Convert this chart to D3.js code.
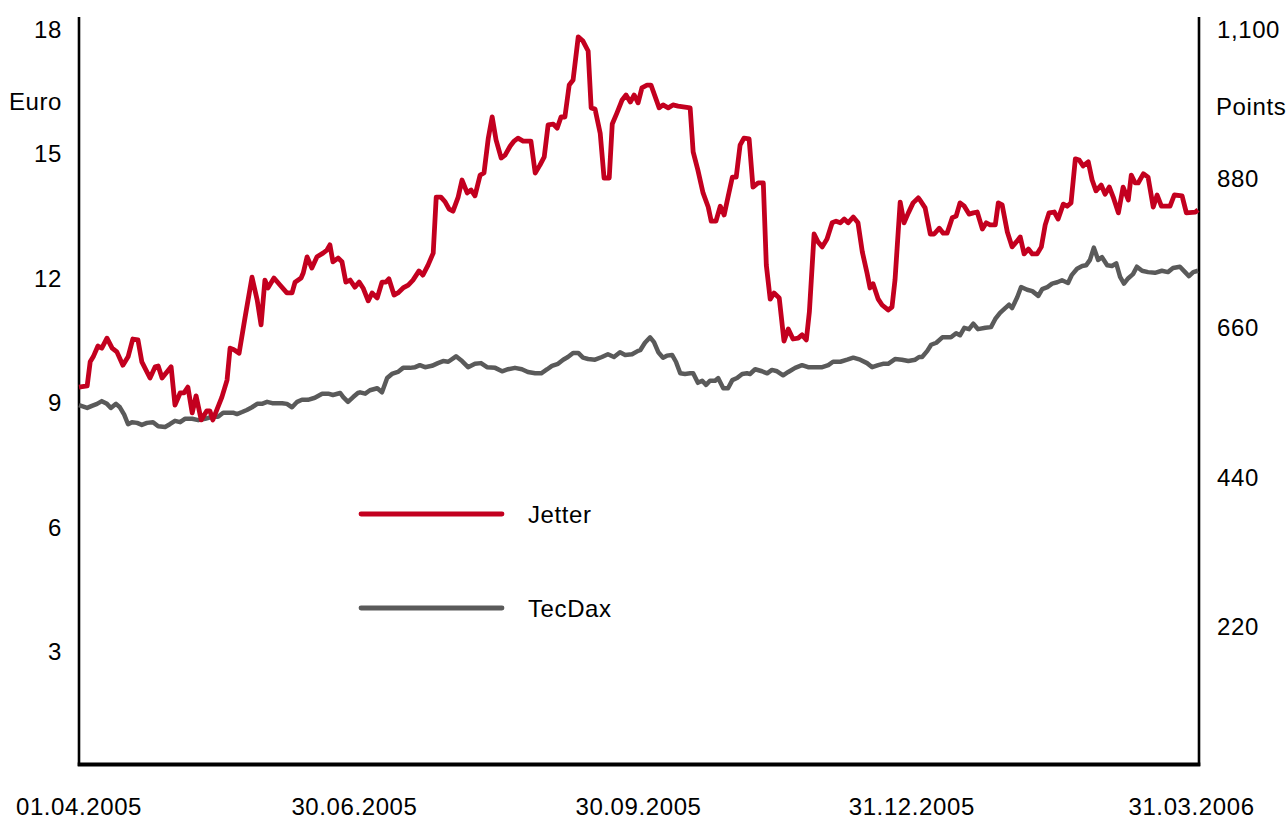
<!DOCTYPE html>
<html>
<head>
<meta charset="utf-8">
<script src="https://cdn.jsdelivr.net/npm/d3@7"></script>
<style>
html, body { margin: 0; padding: 0; background: #fff; }
svg { display: block; font-family: "Liberation Sans", Arial, Helvetica, sans-serif; }
svg text { letter-spacing: 0.6px; }
</style>
</head>
<body>
<svg id="chart" width="1287" height="819"></svg>
<script>
// trading day index (0 = 01.04.2005, 260 = 31.03.2006) and values
const jetterDay = [
  0,1.9,2.6,3.3,4.4,5.3,6.5,7.7,8.8,10.2,
  11.4,12.5,13.7,14.6,16.5,17.7,18.4,19.3,21.4,22.3,
  23.5,24.4,25.3,26.3,27.2,28.4,29.7,30.4,31.1,33.2,
  34.4,35.1,36.0,37.2,38.6,40.2,41.4,42.3,43.2,43.9,
  45.3,46.7,48.3,49.5,50.2,51.6,52.1,53.0,54.1,55.3,
  56.7,57.6,58.3,59.0,60.2,61.1,62.0,63.0,64.1,65.1,
  66.0,67.2,68.1,69.3,70.4,71.3,72.0,73.2,74.1,75.3,
  76.5,77.6,79.0,79.9,81.1,82.3,83.0,84.1,85.1,86.0,
  86.9,88.1,89.0,90.2,91.1,92.0,93.2,94.1,95.1,96.0,
  96.9,98.1,99.0,100.2,101.1,102.0,103.2,105.0,106.0,107.1,
  108.1,109.0,110.2,111.1,112.0,112.9,113.9,114.8,116.0,117.1,
  118.3,119.0,119.9,121.1,122.0,123.2,123.9,125.0,126.2,127.1,
  128.1,129.0,129.9,130.8,132.0,132.9,134.8,135.7,136.9,138.0,
  139.2,142.0,142.7,143.8,145.0,146.2,146.9,148.0,149.0,149.9,
  150.8,151.8,152.7,153.6,154.5,155.7,156.6,157.8,159.0,159.7,
  160.6,161.5,162.7,163.8,164.8,165.9,167.1,168.0,169.0,169.7,
  170.8,171.7,172.7,173.8,175.0,175.9,176.9,177.8,178.7,179.9,
  181.0,182.0,183.1,183.8,184.5,185.7,186.6,188.0,188.9,189.6,
  190.8,191.7,192.7,193.8,195.0,195.4,196.6,197.8,198.7,199.9,
  200.8,201.7,202.9,203.8,204.7,205.7,206.8,207.8,208.7,209.9,
  210.8,211.7,212.9,213.6,214.5,215.7,216.8,217.8,218.7,219.6,
  220.6,221.5,222.6,223.6,224.5,225.4,226.6,227.5,228.7,229.6,
  230.5,231.5,232.4,233.3,234.5,235.4,236.3,237.5,238.4,239.4,
  240.3,241.5,242.6,243.8,244.5,245.4,246.1,247.3,248.4,249.6,
  250.5,251.5,253.5,254.5,256.3,257.3,259.4,260.0
];
const jetterEuro = [
  9.37,9.40,9.98,10.10,10.36,10.31,10.55,10.31,10.22,9.90,
  10.10,10.53,10.51,9.98,9.59,9.86,9.88,9.59,9.86,8.94,
  9.23,9.23,9.37,8.75,9.16,8.58,8.80,8.80,8.58,9.13,
  9.54,10.31,10.27,10.19,11.06,12.02,11.47,10.87,11.95,11.76,
  12.00,11.83,11.64,11.64,11.90,12.00,12.12,12.51,12.24,12.51,
  12.60,12.67,12.80,12.39,12.48,12.39,11.90,11.95,11.78,11.90,
  11.76,11.45,11.64,11.52,11.90,11.90,11.98,11.59,11.64,11.76,
  11.83,11.95,12.17,12.07,12.31,12.60,13.95,13.95,13.83,13.66,
  13.61,13.95,14.36,14.05,14.12,13.98,14.48,14.53,15.37,15.88,
  15.33,14.89,14.96,15.18,15.30,15.37,15.30,15.30,14.53,14.72,
  14.92,15.69,15.71,15.61,15.88,15.88,16.65,16.77,17.81,17.71,
  17.47,16.10,16.07,15.49,14.41,14.41,15.71,15.98,16.29,16.41,
  16.24,16.41,16.22,16.58,16.65,16.65,16.10,16.17,16.10,16.17,
  16.14,16.10,15.04,14.60,14.05,13.71,13.37,13.37,13.73,13.52,
  13.95,14.43,14.43,15.20,15.37,15.35,14.19,14.29,14.29,12.31,
  11.49,11.64,11.52,10.48,10.77,10.53,10.55,10.63,10.51,11.18,
  13.06,12.87,12.75,12.94,13.33,13.37,13.33,13.42,13.33,13.47,
  13.33,12.63,12.12,11.76,11.86,11.49,11.35,11.23,11.30,11.95,
  13.83,13.33,13.57,13.81,13.93,13.88,13.69,13.06,13.06,13.20,
  13.08,13.08,13.45,13.49,13.81,13.73,13.54,13.57,13.59,13.18,
  13.33,13.28,13.28,13.81,13.76,13.11,12.75,12.87,12.99,12.58,
  12.70,12.58,12.58,12.75,13.28,13.57,13.59,13.42,13.78,13.73,
  13.81,14.87,14.84,14.70,14.80,14.36,14.10,14.24,14.02,14.19,
  13.95,13.57,14.19,13.88,14.48,14.29,14.29,14.51,14.43,13.71,
  14.00,13.73,13.73,14.00,13.98,13.57,13.59,13.64
];
const tecdaxDay = [
  0,1.9,3.0,4.2,5.3,6.5,7.4,8.6,9.5,10.5,
  11.4,12.3,13.5,14.6,15.8,17.2,18.4,20.0,21.1,22.3,
  23.5,24.6,26.3,27.7,29.3,30.9,32.3,33.5,34.6,35.8,
  36.7,37.9,39.0,40.2,41.4,42.5,43.7,44.9,46.0,47.2,
  48.3,49.5,50.7,51.8,53.2,54.8,56.5,57.9,59.0,60.7,
  61.4,62.5,63.7,64.8,65.3,66.5,67.6,69.3,70.4,71.6,
  72.7,74.1,75.3,76.9,78.1,79.2,80.4,82.0,83.4,84.6,
  85.8,87.6,89.0,90.4,92.0,93.4,94.8,96.7,98.3,99.7,
  101.3,102.9,104.3,106.0,107.4,108.8,109.9,111.3,112.5,113.6,
  114.8,116.0,117.1,118.3,119.9,121.5,122.9,124.3,125.7,126.9,
  128.5,129.9,130.4,131.5,132.7,133.6,134.6,135.7,136.6,137.8,
  138.7,139.7,140.8,142.0,142.7,143.8,144.8,145.7,146.6,147.8,
  148.5,149.7,150.8,151.8,152.9,154.1,155.2,155.9,157.1,158.7,
  159.9,161.0,162.2,163.6,164.8,166.4,168.0,169.4,171.0,172.7,
  174.1,175.2,176.9,178.5,179.9,181.5,183.1,184.3,185.7,186.8,
  188.0,189.6,191.2,192.7,194.3,195.2,195.9,197.1,198.0,199.2,
  200.6,201.7,202.6,203.8,204.7,205.7,206.8,207.8,208.9,210.6,
  211.9,212.9,214.0,215.2,216.1,216.8,218.0,218.9,220.3,221.5,
  222.9,223.8,225.0,226.1,227.3,228.4,229.8,230.7,231.9,233.1,
  234.0,234.9,235.8,236.8,237.7,238.9,240.0,241.0,241.9,242.8,
  243.8,244.9,245.8,247.0,248.4,250.0,251.6,253.0,254.2,255.8,
  257.0,257.9,258.9,260.0
];
const tecdaxPoints = [
  546,542,545,548,552,548,542,548,543,532,
  518,521,520,517,520,521,515,514,518,523,
  521,526,526,524,526,529,529,535,535,535,
  533,536,539,543,548,548,551,549,549,549,
  548,543,551,554,554,557,563,563,561,564,
  558,551,558,564,565,563,568,571,565,586,
  592,595,601,601,602,605,602,604,608,611,
  610,618,611,602,607,608,602,601,596,599,
  601,599,595,593,593,599,604,607,613,617,
  623,623,616,614,613,617,621,617,624,620,
  621,626,627,638,646,639,624,616,619,620,
  610,593,592,593,593,579,582,576,582,582,
  586,571,571,583,586,592,593,592,599,596,
  593,598,596,590,595,601,605,602,602,602,
  605,610,610,613,616,613,608,602,605,607,
  607,614,613,611,613,617,617,626,635,638,
  646,646,646,652,649,660,658,666,658,660,
  661,673,682,689,694,689,705,720,716,714,
  707,717,720,725,727,730,726,738,747,751,
  752,760,778,760,764,752,751,755,735,725,
  733,739,750,744,742,741,744,742,748,750,
  742,736,742,744
];

const euroTicks = [3, 6, 9, 12, 15, 18];
const pointTicks = [220, 440, 660, 880, 1100];
const dateTickDays = [0, 64, 130, 193.5, 258.5];
const dateTickLabels = ["01.04.2005", "30.06.2005", "30.09.2005", "31.12.2005", "31.03.2006"];

const series = [
  { name: "Jetter", color: "#c3001f" },
  { name: "TecDax", color: "#5a5a5a" }
];

const svg = d3.select("#chart");
const x = d3.scaleLinear().domain([0, 260]).range([79, 1198]);
const yEuro = d3.scaleLinear().domain([0, 18]).range([776, 29]);
const yPts = d3.scaleLinear().domain([0, 1100]).range([776, 29]);

// frame lines
svg.append("line").attr("x1", 79).attr("x2", 79).attr("y1", 17).attr("y2", 766)
  .attr("stroke", "#000").attr("stroke-width", 2.6);
svg.append("line").attr("x1", 1199).attr("x2", 1199).attr("y1", 17).attr("y2", 766)
  .attr("stroke", "#000").attr("stroke-width", 2.6);
svg.append("line").attr("x1", 77.7).attr("x2", 1200.3).attr("y1", 764.5).attr("y2", 764.5)
  .attr("stroke", "#000").attr("stroke-width", 4);

const fs = 24;
// left axis labels
svg.selectAll("text.ly").data(euroTicks).enter().append("text")
  .attr("class", "ly").attr("x", 62).attr("y", d => yEuro(d)).attr("dy", "0.36em")
  .attr("text-anchor", "end").attr("font-size", fs).text(d => d);
svg.append("text").attr("x", 62).attr("y", 101).attr("dy", "0.36em")
  .attr("text-anchor", "end").attr("font-size", fs).text("Euro");

// right axis labels
svg.selectAll("text.ry").data(pointTicks).enter().append("text")
  .attr("class", "ry").attr("x", 1217).attr("y", d => yPts(d)).attr("dy", "0.36em")
  .attr("font-size", fs).text(d => d3.format(",")(d));
svg.append("text").attr("x", 1216).attr("y", 106).attr("dy", "0.36em")
  .attr("font-size", fs).text("Points");

// x labels
svg.selectAll("text.xl").data(dateTickDays).enter().append("text")
  .attr("class", "xl").attr("x", d => x(d)).attr("y", 815)
  .attr("text-anchor", "middle").attr("font-size", fs)
  .text((d, i) => dateTickLabels[i]);

// series lines
const tecLine = d3.line().x(d => x(d[0])).y(d => yPts(d[1]));
const jetLine = d3.line().x(d => x(d[0])).y(d => yEuro(d[1]));

svg.append("path").datum(d3.zip(tecdaxDay, tecdaxPoints))
  .attr("d", tecLine).attr("fill", "none").attr("stroke", series[1].color)
  .attr("stroke-width", 4.5).attr("stroke-linejoin", "round");
svg.append("path").datum(d3.zip(jetterDay, jetterEuro))
  .attr("d", jetLine).attr("fill", "none").attr("stroke", series[0].color)
  .attr("stroke-width", 4.8).attr("stroke-linejoin", "round");

// legend
const lg = svg.selectAll("g.lg").data(series).enter().append("g")
  .attr("class", "lg").attr("transform", (d, i) => `translate(0,${514 + i * 94})`);
lg.append("line").attr("x1", 361).attr("x2", 502).attr("y1", 0).attr("y2", 0)
  .attr("stroke", d => d.color).attr("stroke-width", 4.8).attr("stroke-linecap", "round");
lg.append("text").attr("x", 528).attr("y", 0).attr("dy", "0.36em")
  .attr("font-size", fs).text(d => d.name);
</script>
</body>
</html>
